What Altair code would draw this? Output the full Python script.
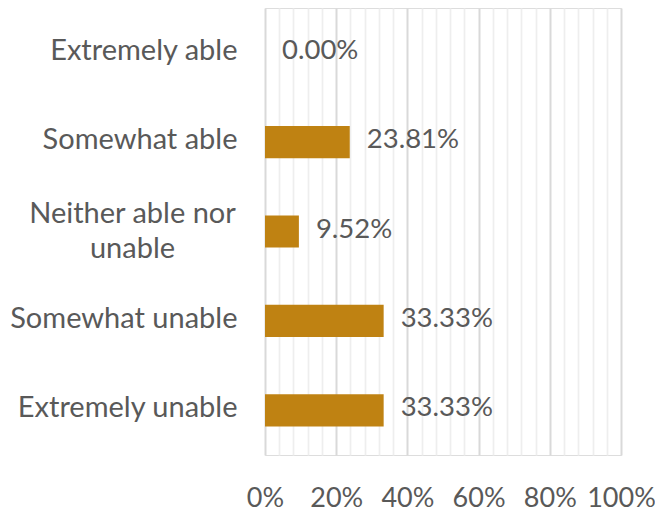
import altair as alt
import pandas as pd

categories = ["Extremely able", "Somewhat able", "Neither able nor unable",
              "Somewhat unable", "Extremely unable"]
values = [0.0, 0.2381, 0.0952, 0.3333, 0.3333]
x_ticks = [i / 100 for i in range(0, 101, 4)]

df = pd.DataFrame({"category": categories, "value": values})

FONT = "Lato"
TXT = "#595959"
wrapped = "datum.value == 'Neither able nor unable'"
major = "abs(datum.value*5 - round(datum.value*5)) < 0.001"

base = alt.Chart(df)

y = alt.Y("category:N", sort=categories, title=None,
          scale=alt.Scale(paddingInner=0.64, paddingOuter=0.32),
          axis=alt.Axis(domain=False, ticks=False, grid=False,
                        labelFont=FONT, labelFontSize=29, labelColor=TXT,
                        labelLimit=400, labelLineHeight=35,
                        labelExpr="datum.value == 'Neither able nor unable' ? ['Neither able nor', 'unable'] : datum.value",
                        labelAlign={"condition": {"test": wrapped, "value": "center"}, "value": "right"},
                        labelOffset={"condition": {"test": wrapped, "value": -18}, "value": -2},
                        labelPadding={"condition": {"test": wrapped, "value": 133}, "value": 28}))

x = alt.X("value:Q", title=None,
          scale=alt.Scale(domain=[0, 1], nice=False),
          axis=alt.Axis(values=x_ticks, tickCount=len(x_ticks), domain=False, ticks=False,
                        labelFont=FONT, labelFontSize=27, labelColor=TXT,
                        labelOverlap=False, labelFlush=False, labelPadding=30,
                        labelExpr=f"{major} ? format(datum.value, '.0%') : ''",
                        gridColor={"condition": {"test": major, "value": "#D9D9D9"}, "value": "#EEEEEE"},
                        gridWidth={"condition": {"test": major, "value": 2}, "value": 1.7}))

bars = base.mark_bar(color="#BF8212").encode(x=x, y=y)
labels = base.mark_text(align="left", baseline="middle", dx=17, dy=-2,
                        font=FONT, fontSize=27.5, color=TXT).encode(
    x="value:Q", y=alt.Y("category:N", sort=categories),
    text=alt.Text("value:Q", format=".2%"))

chart = (bars + labels).properties(
    width=356, height=447,
    autosize=alt.AutoSizeParams(type="none"),
    padding={"left": 257, "top": 0, "right": 34, "bottom": 56},
).configure_view(stroke=None).configure(background="white")

chart.save("out.html", embed_options={"renderer": "svg", "actions": False})
